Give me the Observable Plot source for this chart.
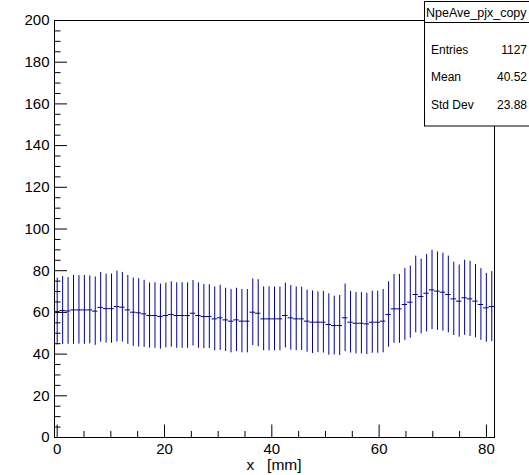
<!DOCTYPE html>
<html><head><meta charset="utf-8">
<script src="https://cdn.jsdelivr.net/npm/d3@7"></script>
<script src="https://cdn.jsdelivr.net/npm/@observablehq/plot@0.6"></script>
<style>html,body{margin:0;padding:0;background:#fff}</style>
</head><body><div id="chart"></div>
<script>
// Histogram binning (81 bins)
const binLow = -0.5, binHigh = 81.5;
// Bin contents (mean NpeAve per x bin)
const means = [
  60.4, 60.9, 60.7, 61.2, 61.2, 61.2, 61.2, 60.6, 62.4, 61.8, 61.8, 62.8, 62.5, 61.2, 60.1, 59.8, 59.3, 58.5, 58.5, 58.0,
  58.5, 59.0, 58.5, 58.5, 58.5, 59.6, 58.5, 58.0, 58.0, 56.9, 57.4, 56.4, 55.8, 56.4, 55.8, 55.8, 60.1, 59.6, 56.9, 56.9,
  56.9, 56.9, 58.5, 57.4, 56.9, 56.9, 55.8, 55.3, 55.3, 55.3, 54.2, 53.7, 53.7, 57.4, 55.3, 54.8, 54.8, 54.5, 55.3, 55.3,
  55.8, 59.0, 61.7, 61.7, 63.8, 64.9, 68.6, 67.6, 69.2, 70.8, 70.2, 69.7, 68.6, 66.5, 65.4, 67.0, 66.5, 65.4, 63.8, 62.2, 62.8
];
// Bin errors (half length of the vertical bars)
const errors = [
  16.0, 16.3, 16.0, 16.5, 16.4, 16.5, 16.3, 16.4, 16.7, 16.5, 16.6, 17.0, 16.7, 16.5, 16.4, 16.4, 16.1, 15.6, 15.7, 15.6,
  15.5, 15.7, 15.7, 15.7, 15.7, 15.7, 15.7, 15.4, 15.3, 15.3, 15.6, 15.2, 15.2, 15.2, 15.2, 15.2, 16.0, 16.1, 15.3, 15.3,
  15.3, 15.3, 15.5, 15.5, 15.3, 15.2, 14.9, 15.0, 14.6, 14.8, 14.7, 14.1, 14.4, 16.2, 14.8, 14.7, 14.7, 14.7, 14.9, 14.9,
  15.2, 15.7, 16.5, 16.5, 17.2, 17.3, 18.4, 17.9, 18.6, 19.0, 18.8, 18.7, 18.4, 17.6, 17.3, 18.0, 18.0, 17.6, 17.2, 16.5, 16.8
];
const xMajorTicks = [0, 20, 40, 60, 80];
const xMinorTicks = [5, 10, 15, 25, 30, 35, 45, 50, 55, 65, 70, 75];
const yMajorTicks = [0, 20, 40, 60, 80, 100, 120, 140, 160, 180, 200];
const yMinorTicks = d3.range(5, 200, 5).filter(v => v % 20 !== 0);
const xTitle = "x   [mm]";
const statsTitle = "NpeAve_pjx_copy";
const statsLabels = ["Entries", "Mean", "Std Dev"];
const statsValues = ["1127", "40.52", "23.88"];

const W = 529, H = 475, mL = 54, mR = 35, mT = 20, mB = 38;
const frameW = W - mL - mR, frameH = H - mT - mB;
const n = means.length, bw = (binHigh - binLow) / n;
const bins = means.map((v, i) => ({
  x: binLow + (i + 0.5) * bw, lo: binLow + i * bw, hi: binLow + (i + 1) * bw, v, e: errors[i]
}));
const col = "#000099";
const font = "Liberation Sans, Arial, sans-serif";

const chart = Plot.plot({
  width: W, height: H,
  marginLeft: mL, marginRight: mR, marginTop: mT, marginBottom: mB,
  style: {fontFamily: font, background: "white", color: "black"},
  x: {domain: [binLow, binHigh]},
  y: {domain: [0, 200]},
  marks: [
    Plot.ruleX(bins, {x: "x", y1: d => d.v - d.e, y2: d => d.v + d.e, stroke: col, strokeWidth: 1}),
    Plot.ruleY(bins, {y: "v", x1: "lo", x2: "hi", stroke: col, strokeWidth: 1}),
    Plot.ruleX(xMajorTicks, {x: d => d, insetTop: frameH - 12.5, stroke: "black"}),
    Plot.ruleX(xMinorTicks, {x: d => d, insetTop: frameH - 6, stroke: "black"}),
    Plot.ruleY(yMajorTicks, {y: d => d, insetRight: frameW - 13, stroke: "black"}),
    Plot.ruleY(yMinorTicks, {y: d => d, insetRight: frameW - 6.5, stroke: "black"}),
    Plot.axisX(xMajorTicks, {tickSize: 0, tickPadding: 6, fontSize: 15, label: null}),
    Plot.axisY(yMajorTicks, {tickSize: 0, tickPadding: 5, fontSize: 15, label: null}),
    Plot.frame({stroke: "black"})
  ]
});
document.getElementById("chart").appendChild(chart);

const svg = d3.select(chart);
svg.append("text")
  .attr("x", mL + frameW / 2).attr("y", 470)
  .attr("text-anchor", "middle").attr("font-size", 15.5)
  .attr("font-family", font)
  .style("white-space", "pre").text(xTitle);

const g = svg.append("g").attr("font-family", font).attr("font-size", 12).attr("text-anchor", "start");
g.append("rect").attr("x", 424.5).attr("y", 1.5).attr("width", 120).attr("height", 124.5)
  .attr("fill", "white").attr("stroke", "black");
g.append("line").attr("x1", 424.5).attr("x2", 545).attr("y1", 22.5).attr("y2", 22.5).attr("stroke", "black");
g.append("text").attr("x", 426).attr("y", 16.5).attr("font-size", 12.5).attr("text-anchor", "start").text(statsTitle);
statsLabels.forEach((lab, i) => {
  const y = 53.5 + i * 27.8;
  g.append("text").attr("x", 431).attr("y", y).attr("text-anchor", "start").text(lab);
  g.append("text").attr("x", 527).attr("y", y).attr("text-anchor", "end").text(statsValues[i]);
});
</script></body></html>
